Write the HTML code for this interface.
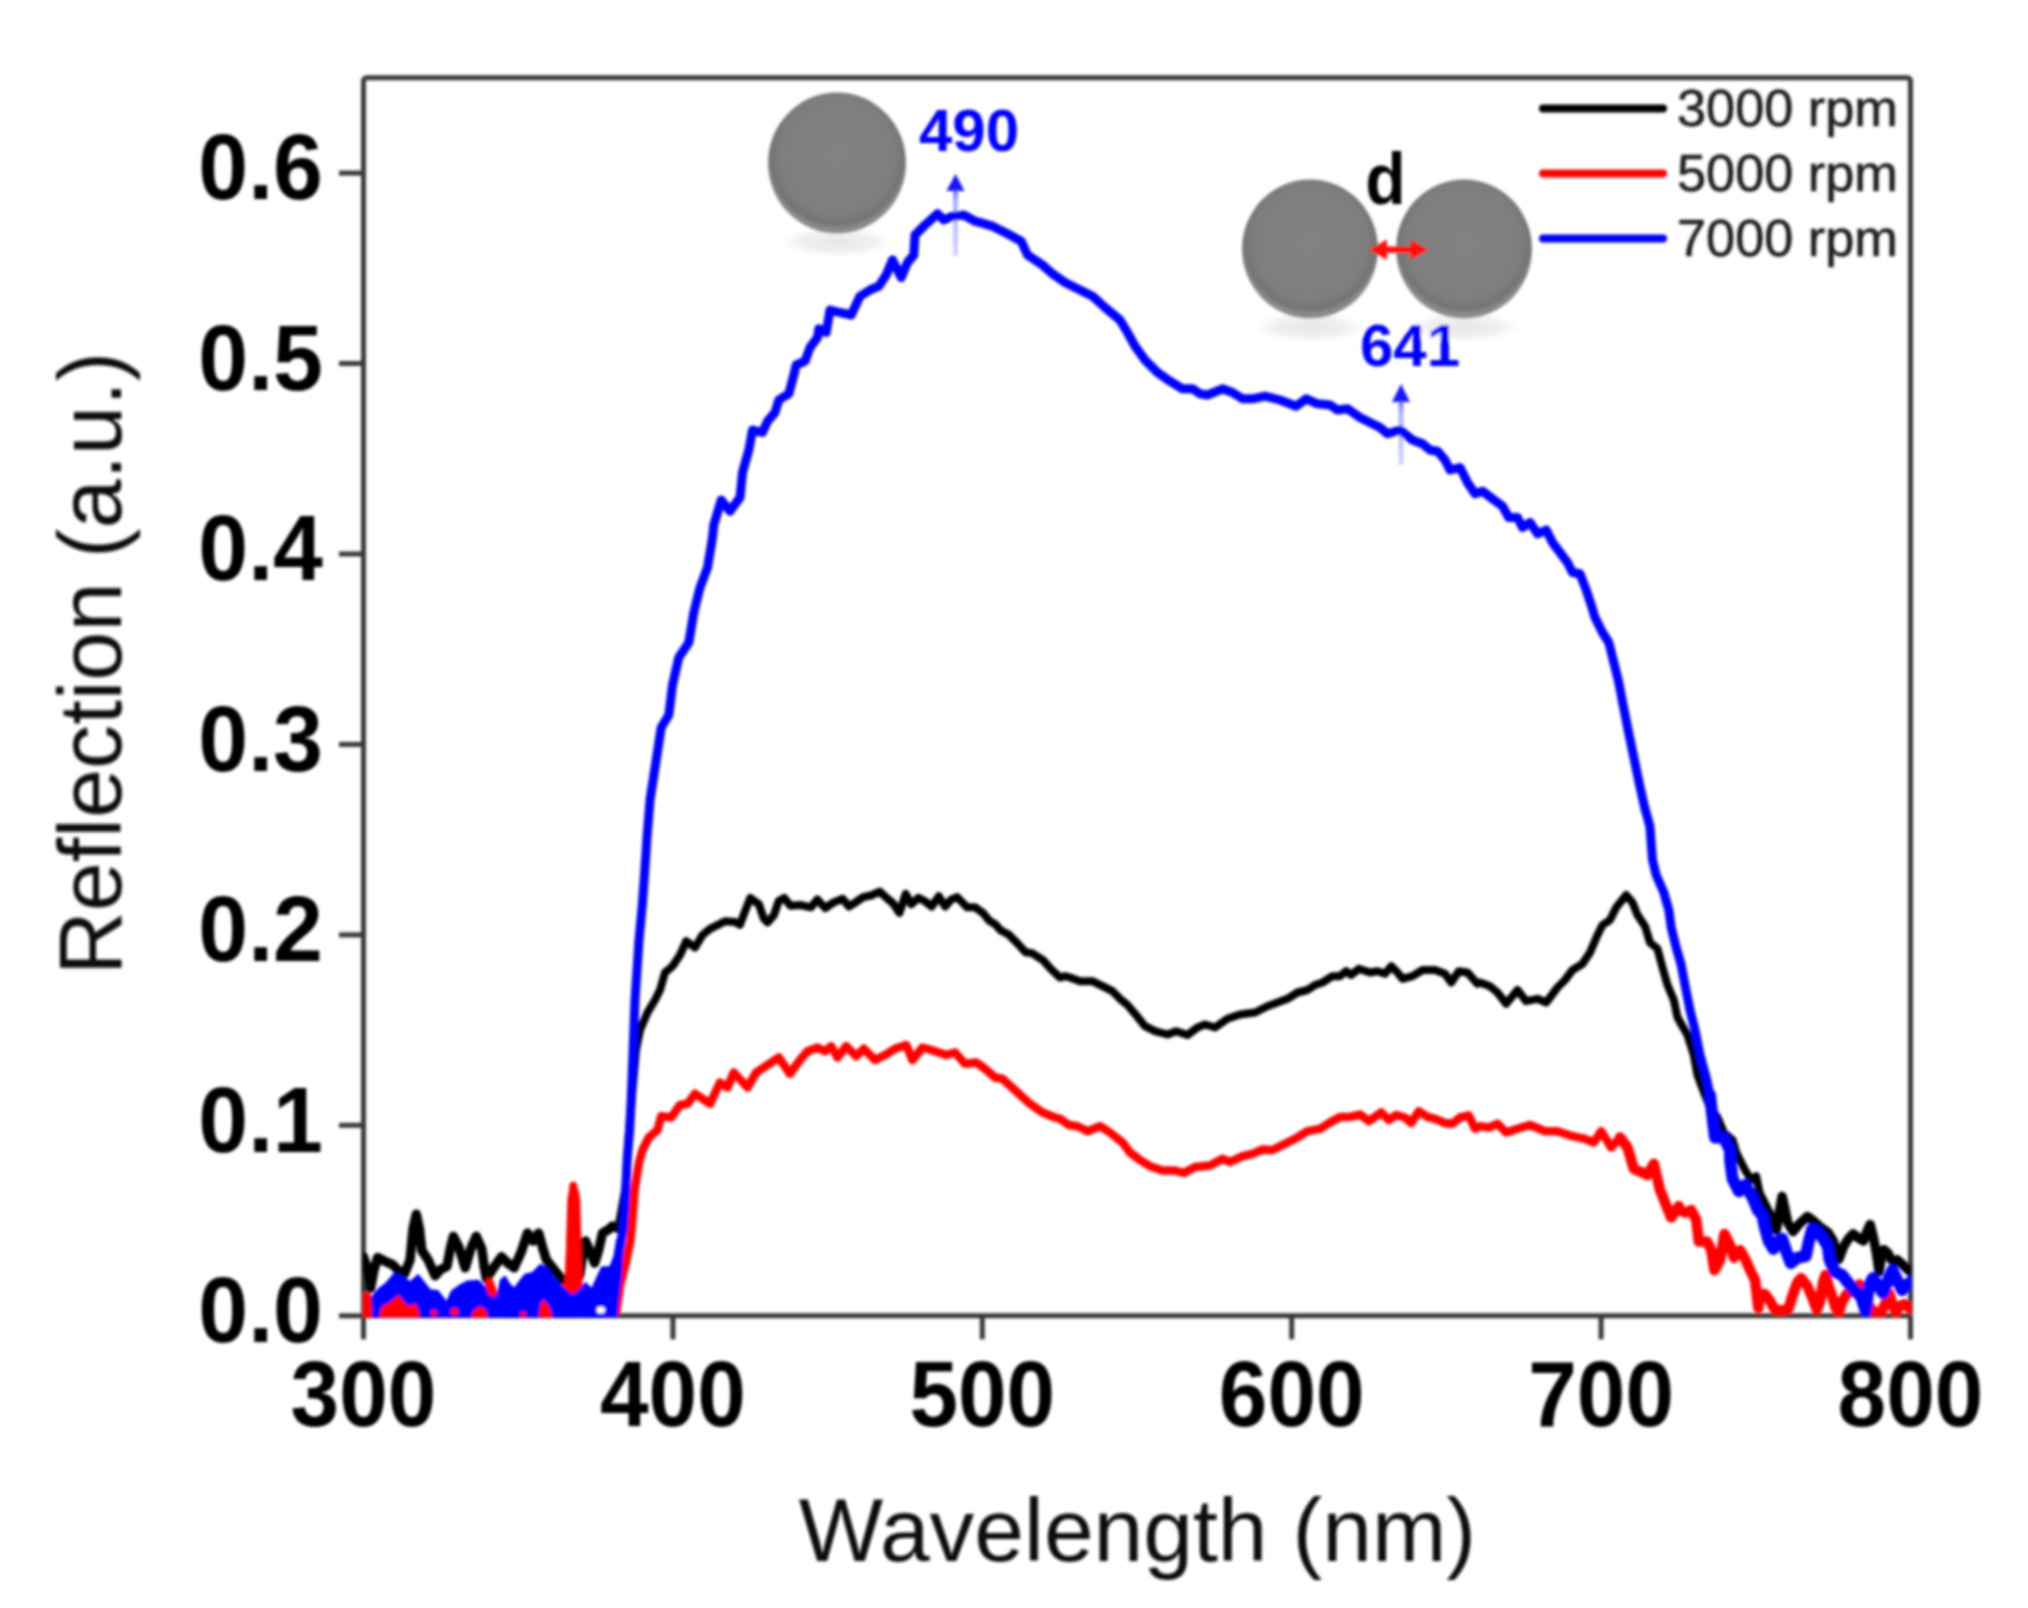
<!DOCTYPE html>
<html lang="en"><head><meta charset="utf-8"><title>Reflection spectra</title>
<style>
html,body{margin:0;padding:0;background:#fff;}
svg{display:block;}
text{font-family:"Liberation Sans",Arial,sans-serif;}
.tk{font-weight:bold;font-size:92px;fill:#050505;}
.ax{fill:#111;}
.lg{font-size:52.3px;fill:#1c1c1c;stroke:#1c1c1c;stroke-width:0.6px;}
.an{font-weight:bold;font-size:60px;fill:#0000ff;}
</style></head><body>
<svg width="2028" height="1608" viewBox="0 0 2028 1608">
<defs>
<clipPath id="cp"><rect x="362.5" y="77.8" width="1549.0" height="1239.6"/></clipPath>
<radialGradient id="sg" cx="50%" cy="45%" r="52%">
<stop offset="0" stop-color="#828282"/><stop offset="0.8" stop-color="#7e7e7e"/><stop offset="0.93" stop-color="#747474"/><stop offset="1" stop-color="#8c8c8c"/>
</radialGradient>
<radialGradient id="sh" cx="50%" cy="50%" r="50%">
<stop offset="0" stop-color="#e6e6e6"/><stop offset="0.6" stop-color="#f1f1f1"/><stop offset="1" stop-color="#ffffff" stop-opacity="0"/>
</radialGradient>
<linearGradient id="ag" x1="0" y1="0" x2="0" y2="1"><stop offset="0" stop-color="#7070ff"/><stop offset="0.2" stop-color="#b0b0ff"/><stop offset="1" stop-color="#d4d4ff"/></linearGradient>
<filter id="bl" x="-5%" y="-5%" width="110%" height="110%"><feGaussianBlur stdDeviation="1.5"/></filter>
</defs>
<rect width="2028" height="1608" fill="#fff"/>
<g filter="url(#bl)">
<ellipse cx="837.0" cy="242.0" rx="63.5" ry="17.0" fill="url(#sh)"/>
<ellipse cx="837.0" cy="163.0" rx="69.0" ry="70.5" fill="url(#sg)"/>
<ellipse cx="1310.0" cy="327.0" rx="62.6" ry="17.0" fill="url(#sh)"/>
<ellipse cx="1310.0" cy="249.0" rx="68.0" ry="69.5" fill="url(#sg)"/>
<ellipse cx="1464.0" cy="327.0" rx="62.6" ry="17.0" fill="url(#sh)"/>
<ellipse cx="1464.0" cy="249.0" rx="68.0" ry="69.5" fill="url(#sg)"/>
<g stroke="#383838" stroke-width="5" fill="none">
<rect x="363.5" y="77.8" width="1547.0" height="1238.0" rx="3"/>
<line x1="363.5" y1="1315.8" x2="363.5" y2="1339.3"/>
<line x1="672.9" y1="1315.8" x2="672.9" y2="1339.3"/>
<line x1="982.3" y1="1315.8" x2="982.3" y2="1339.3"/>
<line x1="1291.7" y1="1315.8" x2="1291.7" y2="1339.3"/>
<line x1="1601.1" y1="1315.8" x2="1601.1" y2="1339.3"/>
<line x1="1910.5" y1="1315.8" x2="1910.5" y2="1339.3"/>
<line x1="339.0" y1="1315.8" x2="363.5" y2="1315.8"/>
<line x1="339.0" y1="1125.3" x2="363.5" y2="1125.3"/>
<line x1="339.0" y1="934.9" x2="363.5" y2="934.9"/>
<line x1="339.0" y1="744.4" x2="363.5" y2="744.4"/>
<line x1="339.0" y1="554.0" x2="363.5" y2="554.0"/>
<line x1="339.0" y1="363.5" x2="363.5" y2="363.5"/>
<line x1="339.0" y1="173.1" x2="363.5" y2="173.1"/>
</g>
<rect x="953.0" y="189.0" width="5" height="67.0" fill="url(#ag)"/>
<polygon points="955.5,174.0 946.5,191.0 964.5,191.0" fill="#1414ff"/>
<rect x="1398.5" y="400.0" width="5" height="65.0" fill="url(#ag)"/>
<polygon points="1401.0,384.0 1392.0,402.0 1410.0,402.0" fill="#1414ff"/>
<g clip-path="url(#cp)" fill="none" stroke-linejoin="round" stroke-linecap="round">
<polyline stroke="#000" stroke-width="9.5" points="363.4,1256.8 366.6,1266.2 370.5,1288.3 373.7,1271.0 377.6,1257.6 385.5,1261.5 392.6,1264.7 398.9,1271.0 404.4,1274.1 410.0,1259.9 413.1,1228.4 416.3,1214.2 419.4,1228.4 421.8,1250.5 428.1,1259.9 435.2,1275.7 440.7,1269.4 447.0,1266.2 450.2,1248.9 453.4,1236.3 458.9,1247.3 465.2,1267.8 470.7,1248.9 476.2,1236.3 481.8,1248.9 484.1,1266.2 486.5,1278.9 493.6,1267.8 501.5,1256.8 507.8,1263.1 514.1,1267.8 521.2,1252.0 527.5,1233.1 533.0,1241.0 538.6,1233.1 542.5,1247.3 546.4,1259.9 555.1,1271.0 563.0,1280.4 570.9,1282.0 579.6,1275.7 582.7,1253.6 585.4,1241.0 589.8,1250.5 594.6,1263.1 598.5,1250.5 602.5,1233.1 608.0,1229.9 612.7,1226.0 618.2,1228.4"/>
<polyline stroke="#000" stroke-width="8" points="618.2,1228.4 625.5,1187.5 628.5,1137.5 632.5,1090.0 636.0,1050.0 640.0,1030.0 647.5,1012.5 655.0,1000.0 660.0,990.0 665.0,972.5 672.5,966.2 680.0,955.0 686.2,941.2 695.0,947.5 702.5,935.0 710.0,928.8 720.0,923.8 725.0,921.2 735.0,922.0 740.0,924.7 744.7,912.1 750.3,897.9 758.9,904.2 763.7,918.4 767.6,922.3 773.9,915.2 778.7,901.0 784.2,897.9 790.5,905.8 800.0,905.0 811.0,907.3 817.3,899.4 825.2,908.1 833.1,902.6 842.6,898.7 848.9,906.5 855.2,902.6 863.1,897.1 871.0,895.5 879.6,891.6 886.7,897.9 893.1,903.4 899.4,912.9 905.7,893.9 911.2,904.2 918.3,897.9 924.6,901.0 931.7,906.5 938.8,896.3 945.1,906.5 951.4,899.4 957.0,897.1 960.9,901.0 967.2,907.3 975.1,907.3 983.0,912.9 989.3,920.7 995.6,924.7 1000.4,930.2 1008.2,934.2 1017.7,943.6 1025.6,952.3 1031.9,953.1 1043.0,960.2 1050.8,968.9 1060.0,977.6 1065.0,976.2 1070.0,977.5 1080.0,981.2 1092.5,981.2 1102.5,986.2 1112.5,991.2 1120.0,998.8 1127.5,1005.0 1135.0,1013.8 1145.0,1026.2 1155.0,1031.2 1167.5,1034.5 1176.2,1031.2 1187.5,1035.0 1197.5,1027.5 1205.0,1024.5 1215.0,1027.5 1227.5,1018.8 1240.0,1014.5 1255.0,1012.5 1267.5,1006.2 1277.5,1002.5 1287.5,998.8 1297.5,992.5 1307.5,990.0 1315.0,985.0 1322.5,982.5 1332.5,976.2 1340.0,976.2 1346.2,971.2 1351.2,975.0 1358.8,968.8 1370.0,972.5 1377.5,971.2 1385.0,973.8 1391.2,966.2 1397.5,972.5 1402.5,978.8 1412.5,976.2 1422.5,970.0 1435.0,970.0 1445.0,973.8 1451.2,982.5 1458.8,971.2 1467.5,972.5 1477.5,983.8 1480.0,982.5 1490.0,986.2 1497.5,992.5 1506.2,1003.8 1517.5,990.0 1526.2,1001.2 1537.5,998.8 1546.2,1002.5 1557.5,987.5 1565.0,980.0 1572.5,970.0 1582.5,963.8 1590.0,952.5 1597.5,935.0 1602.5,925.0 1610.0,920.0 1616.2,907.5 1626.2,895.0 1632.5,902.5 1637.5,915.0 1645.0,926.2 1650.0,942.5 1657.5,948.8 1662.5,967.5 1667.5,985.0 1673.8,1000.0 1677.5,1017.5 1687.5,1035.0 1693.8,1055.0 1697.5,1075.0 1705.0,1095.0 1710.0,1107.5 1717.5,1117.5 1723.8,1132.5 1732.5,1140.0 1736.2,1152.5 1745.0,1170.0 1751.2,1180.0 1756.2,1176.2 1760.0,1195.0"/>
<polyline stroke="#000" stroke-width="9.5" points="1760.0,1195.0 1767.5,1210.0 1772.7,1220.1 1776.4,1230.1 1779.6,1210.1 1782.1,1196.3 1785.2,1210.1 1787.7,1222.6 1793.1,1231.6 1799.4,1223.7 1807.3,1216.6 1812.1,1219.7 1820.0,1226.8 1827.9,1232.4 1833.4,1241.0 1835.7,1250.5 1838.9,1259.2 1843.6,1246.6 1848.4,1238.7 1853.1,1233.9 1859.4,1238.7 1863.4,1241.0 1867.3,1230.8 1870.1,1224.5 1872.8,1234.7 1876.0,1250.5 1879.1,1271.8 1881.5,1256.0 1883.9,1249.7 1887.8,1252.9 1891.0,1259.2 1894.1,1262.3 1897.3,1260.0 1902.0,1263.9 1906.7,1268.6 1911.5,1272.6"/>
<polyline stroke="#ff0000" stroke-width="8" points="363.4,1299.4 367.4,1297.8 371.3,1312.0 378.4,1313.6 386.3,1307.3 397.3,1299.4 403.6,1308.8 411.5,1309.6 416.3,1307.3 421.0,1313.6 430.5,1297.8 435.2,1313.6 444.7,1314.4 454.1,1312.0 460.5,1314.4 473.1,1313.6 481.0,1309.6 487.3,1297.8 489.6,1282.0 492.8,1291.5 498.3,1313.6 507.8,1302.5 514.9,1291.5 519.6,1304.1 523.6,1314.4 536.2,1313.6 541.7,1305.7 547.2,1307.3 553.6,1313.6 561.4,1297.8 568.5,1282.0 571.7,1218.9 573.3,1185.8 574.9,1218.9 578.0,1282.0 580.4,1305.7 583.5,1313.6 589.8,1304.1 593.8,1291.5 597.7,1305.7 602.5,1313.6 610.4,1314.4 613.5,1313.6 616.4,1311.5"/>
<polyline stroke="#ff0000" stroke-width="8.5" points="616.4,1311.5 620.1,1285.0 626.0,1262.0 630.5,1240.0 632.8,1215.0 634.5,1190.0 638.8,1163.5 642.5,1150.0 648.8,1137.5 657.5,1130.0 661.2,1116.2 671.2,1117.5 680.0,1105.0 687.5,1103.8 695.0,1093.8 710.0,1103.8 720.0,1082.5 727.5,1087.5 733.8,1072.5 747.5,1087.5 756.2,1072.5 767.5,1065.0 778.8,1057.5 790.0,1073.8 800.0,1060.0 807.5,1051.2 817.5,1047.5 825.0,1051.2 831.2,1046.2 837.5,1057.5 846.2,1046.2 856.2,1056.2 863.8,1048.8 875.0,1060.0 885.0,1055.0 895.0,1048.8 906.2,1045.0 912.5,1060.0 922.5,1047.5 935.0,1051.2 946.2,1055.0 955.0,1052.5 965.0,1063.8 976.2,1062.5 985.0,1068.8 995.0,1077.5 1002.5,1078.8 1017.5,1092.5 1030.0,1103.8 1042.5,1112.5 1055.0,1117.5 1060.0,1118.8 1068.8,1125.0 1077.5,1126.2 1087.5,1131.2 1100.0,1126.2 1110.0,1132.5 1122.5,1142.5 1130.0,1152.5 1140.0,1160.0 1150.0,1166.2 1162.5,1170.5 1175.0,1170.5 1183.8,1173.0 1195.0,1167.0 1210.0,1165.5 1222.5,1158.8 1230.0,1162.0 1242.5,1156.2 1252.5,1153.8 1262.5,1149.5 1272.5,1150.0 1285.0,1143.8 1295.0,1138.8 1307.5,1131.2 1320.0,1128.8 1330.0,1122.5 1340.0,1117.0 1350.0,1117.0 1360.0,1114.5 1368.8,1121.2 1381.2,1112.5 1388.8,1120.0 1396.2,1115.0 1405.0,1117.5 1411.2,1123.0 1418.8,1111.2 1427.5,1117.0 1435.0,1118.8 1445.0,1123.0 1452.5,1123.8 1460.0,1117.5 1468.8,1115.5 1475.0,1128.8 1480.0,1126.2 1488.8,1127.5 1497.5,1123.8 1506.2,1132.5 1517.5,1128.8 1530.0,1125.0 1545.0,1131.2 1557.5,1131.2 1572.5,1136.2 1585.0,1138.8 1593.8,1142.5 1601.2,1131.2 1611.2,1147.5 1620.0,1137.5"/>
<polyline stroke="#ff0000" stroke-width="10.5" points="1620.0,1137.5 1627.5,1147.5 1633.8,1168.8 1647.5,1175.0 1653.8,1163.8 1660.0,1190.0 1671.2,1217.5 1678.8,1206.2 1680.0,1210.1 1685.0,1212.6 1691.3,1210.1 1696.3,1220.1 1698.8,1241.4 1706.9,1241.4 1711.3,1250.2 1714.4,1270.2 1720.1,1260.2 1724.5,1233.9 1730.1,1245.2 1733.9,1257.7 1740.1,1250.2 1745.1,1258.9 1750.1,1270.2 1755.1,1280.2 1758.3,1307.8 1760.0,1293.9 1764.7,1293.9 1769.5,1300.2 1775.0,1309.7 1782.1,1310.5 1788.4,1308.9 1793.1,1293.9 1797.1,1282.9 1801.0,1278.1 1807.3,1286.0 1812.1,1297.1 1816.8,1309.7 1820.0,1301.8 1823.1,1282.1 1825.5,1275.0 1828.6,1286.0 1832.6,1297.8 1835.7,1308.1 1838.9,1312.0 1842.1,1301.8 1846.8,1293.9 1853.1,1290.0 1859.4,1284.4 1864.1,1293.9 1868.9,1305.7 1873.6,1312.0 1881.5,1312.0 1886.2,1301.8 1889.4,1293.9 1892.5,1304.2 1895.7,1312.0 1900.4,1305.7 1904.4,1304.2 1911.5,1309.7"/>
<polygon fill="#ff0000" stroke="#ff0000" stroke-width="2" points="565.5,1300 567.2,1240 568.3,1200 570,1190 573.8,1186 577.5,1190 579.2,1200 580.3,1240 582,1300"/>
<polygon fill="#0000ff" stroke="#0000ff" stroke-width="2" points="370.5,1320.0 370.8,1300.0 373.0,1296.0 378.7,1289.4 386.6,1283.1 394.4,1273.6 402.3,1276.8 410.2,1282.3 418.1,1275.2 424.4,1283.1 430.0,1290.2 437.8,1291.0 442.6,1297.3 446.5,1302.8 452.0,1291.0 459.9,1285.5 467.8,1281.5 478.0,1280.7 484.4,1287.0 489.1,1297.3 497.0,1297.3 501.0,1280.0 504.9,1276.8 509.7,1284.7 514.5,1288.6 520.8,1280.0 525.5,1274.4 532.6,1272.9 540.5,1265.0 547.6,1268.9 552.3,1276.8 560.2,1285.5 566.5,1291.0 573.0,1296.0 580.7,1289.4 585.5,1283.1 591.8,1289.4 596.5,1279.2 602.0,1267.3 610.0,1267.3 614.7,1255.5 617.0,1240.0 623.0,1240.0 621.0,1275.0 618.0,1300.0 616.0,1320.0"/>
<polyline stroke="#0000ff" stroke-width="9" points="611.0,1300.0 613.5,1282.0 617.0,1262.0 620.5,1244.0 623.2,1228.0 624.8,1207.0 626.1,1182.0 627.3,1157.0 629.5,1132.0 631.2,1100.0 632.2,1075.0 635.0,1000.0 639.0,940.0 642.3,905.0 644.5,875.0 647.0,837.5 650.0,800.0 656.2,760.0 661.2,727.5 668.8,715.0 672.5,685.0 678.8,657.5 688.8,642.5 693.8,612.5 700.0,587.5 707.5,567.5 712.5,537.5 713.8,525.0 721.2,500.0 730.0,511.2 740.0,497.5 742.5,472.5 748.8,450.0 752.5,430.0 762.5,432.5 767.5,421.2 775.0,412.5 778.8,400.0 788.8,393.8 793.8,375.0 796.2,365.0 805.0,361.2 810.0,347.5 817.5,337.5 818.8,328.8 826.2,332.5 830.0,310.0 840.0,312.5 851.2,315.0 860.0,296.2 870.0,290.0 878.8,286.2 886.2,275.0 892.5,260.0 901.2,277.5 907.5,262.5 913.8,255.0 915.0,235.0 925.0,225.0 937.5,213.8 943.8,220.0 952.5,216.2 963.8,215.0 975.0,221.2 992.5,226.2 1007.5,233.8 1021.2,241.2 1027.5,255.0 1042.5,265.0 1052.5,273.8 1065.0,282.5 1077.5,288.8 1092.5,296.2 1105.0,307.5 1120.0,320.0 1127.5,332.5 1135.0,346.2 1145.0,360.0 1157.5,372.5 1170.0,381.2 1182.5,388.8 1192.5,388.8 1200.0,393.8 1207.5,395.0 1222.5,388.8 1232.5,392.5 1242.5,398.8 1252.5,398.8 1265.0,396.2 1280.0,400.0 1296.2,406.2 1306.2,398.8 1317.5,403.8 1330.0,405.0 1337.5,410.0 1347.5,408.8 1360.0,417.5 1372.5,423.8 1380.0,427.5 1387.5,433.8 1400.0,430.0 1412.5,440.0 1422.5,443.8 1430.0,450.0 1437.5,451.2 1445.0,460.0 1450.0,470.0 1460.0,467.5 1467.5,482.5 1475.0,493.8 1482.5,491.2 1492.5,498.8 1502.5,506.2 1508.8,517.5 1517.5,517.5 1522.5,527.5 1530.0,522.5 1537.5,533.8 1546.2,530.0 1552.5,542.5 1560.0,552.5 1567.5,562.5 1572.5,572.5 1580.0,573.8 1586.2,590.0 1591.2,605.0 1595.0,617.5 1602.5,632.5 1608.8,642.5 1613.8,662.5 1618.8,682.5 1622.5,702.0 1628.8,733.3 1634.1,758.7 1639.4,784.1 1644.6,807.3 1649.9,826.3 1652.5,860.0 1656.2,875.0 1663.8,892.5 1668.8,910.0 1671.2,927.5 1676.2,947.5 1681.2,965.0 1685.0,985.0 1690.0,1010.0 1695.0,1030.0 1700.0,1055.0 1706.2,1077.5 1710.0,1095.0"/>
<polyline stroke="#0000ff" stroke-width="12" points="1710.0,1095.0 1712.5,1117.5 1715.0,1137.5 1723.8,1137.5 1730.0,1150.0 1730.1,1160.0 1732.6,1178.8 1738.9,1191.3 1745.1,1185.0 1752.6,1197.6 1757.7,1210.1 1762.4,1215.0 1764.7,1226.8 1768.7,1241.0 1773.4,1248.9 1778.1,1241.0 1782.1,1238.7 1786.0,1250.5 1790.8,1263.1 1797.9,1257.6 1805.8,1256.0 1808.9,1241.0 1812.1,1229.2 1816.8,1230.8 1823.1,1238.7 1827.9,1246.6 1829.4,1259.2 1835.0,1271.8 1842.1,1275.0 1847.6,1282.1 1854.7,1290.7 1861.0,1296.3 1865.7,1311.3 1868.9,1286.0 1872.8,1278.1 1878.3,1286.0 1883.1,1293.1 1887.8,1280.5 1892.5,1270.2 1897.3,1280.5 1902.0,1290.0 1907.5,1284.4 1911.5,1281.3"/>
<polygon fill="#ff0000" stroke="#ff0000" stroke-width="1.5" points="363.5,1320.0 363.5,1294.0 367.0,1292.5 370.5,1295.0 371.5,1320.0"/>
<polygon fill="#ff0000" stroke="#ff0000" stroke-width="1.5" points="379.5,1320.0 381.0,1310.0 382.6,1306.8 390.5,1302.8 398.4,1295.7 403.9,1302.8 408.6,1306.8 415.0,1304.4 418.1,1310.7 419.7,1320.0"/>
<polygon fill="#ff0000" stroke="#ff0000" stroke-width="1.5" points="471.0,1320.0 474.0,1311.0 480.5,1306.8 485.0,1310.0 488.3,1320.0"/>
<polygon fill="#ff0000" stroke="#ff0000" stroke-width="1.5" points="539.2,1320.0 540.5,1306.0 543.0,1300.5 546.0,1303.0 549.5,1309.0 552.3,1320.0"/>
<circle cx="433.9" cy="1312.8" r="3.2" fill="#ff0000"/>
<circle cx="454.4" cy="1311.8" r="4.0" fill="#ff0000"/>
<circle cx="523.1" cy="1314.2" r="3.0" fill="#ff0000"/>
<ellipse cx="600.8" cy="1310" rx="4.2" ry="3.6" fill="#fff"/>
</g>
<text class="tk" transform="translate(363.5,1425.5) scale(0.950,1)" text-anchor="middle">300</text>
<text class="tk" transform="translate(672.9,1425.5) scale(0.950,1)" text-anchor="middle">400</text>
<text class="tk" transform="translate(982.3,1425.5) scale(0.950,1)" text-anchor="middle">500</text>
<text class="tk" transform="translate(1291.7,1425.5) scale(0.950,1)" text-anchor="middle">600</text>
<text class="tk" transform="translate(1601.1,1425.5) scale(0.950,1)" text-anchor="middle">700</text>
<text class="tk" transform="translate(1910.5,1425.5) scale(0.950,1)" text-anchor="middle">800</text>
<text class="tk" transform="translate(323,1342.1) scale(0.975,1)" text-anchor="end">0.0</text>
<text class="tk" transform="translate(323,1151.6) scale(0.975,1)" text-anchor="end">0.1</text>
<text class="tk" transform="translate(323,961.2) scale(0.975,1)" text-anchor="end">0.2</text>
<text class="tk" transform="translate(323,770.7) scale(0.975,1)" text-anchor="end">0.3</text>
<text class="tk" transform="translate(323,580.3) scale(0.975,1)" text-anchor="end">0.4</text>
<text class="tk" transform="translate(323,389.8) scale(0.975,1)" text-anchor="end">0.5</text>
<text class="tk" transform="translate(323,199.4) scale(0.975,1)" text-anchor="end">0.6</text>
<text class="ax" x="1137.5" y="1561" font-size="89.4" text-anchor="middle">Wavelength (nm)</text>
<text class="ax" transform="translate(121,663.5) rotate(-90)" font-size="88.3" text-anchor="middle">Reflection (a.u.)</text>
<line x1="1543" y1="108.5" x2="1663" y2="108.5" stroke="#000" stroke-width="8" stroke-linecap="round"/>
<text class="lg" x="1677" y="125.8">3000 rpm</text>
<line x1="1543" y1="173.5" x2="1663" y2="173.5" stroke="#ff0000" stroke-width="8" stroke-linecap="round"/>
<text class="lg" x="1677" y="190.8">5000 rpm</text>
<line x1="1543" y1="238.5" x2="1663" y2="238.5" stroke="#0000ff" stroke-width="8" stroke-linecap="round"/>
<text class="lg" x="1677" y="255.8">7000 rpm</text>
<text class="an" x="969" y="151" text-anchor="middle">490</text>
<text class="an" x="1410" y="366" text-anchor="middle">641</text>
<text transform="translate(1385.5,203.5) scale(0.92,1)" text-anchor="middle" style="font-weight:bold;font-size:72px;fill:#000">d</text>
<line x1="1384" y1="249.7" x2="1414" y2="249.7" stroke="#ff0a0a" stroke-width="6.5"/>
<polygon points="1369,249.7 1387,239.5 1387,260" fill="#ff0a0a"/>
<polygon points="1428.5,249.7 1410.5,239.5 1410.5,260" fill="#ff0a0a"/>
</g>
</svg>
</body></html>
